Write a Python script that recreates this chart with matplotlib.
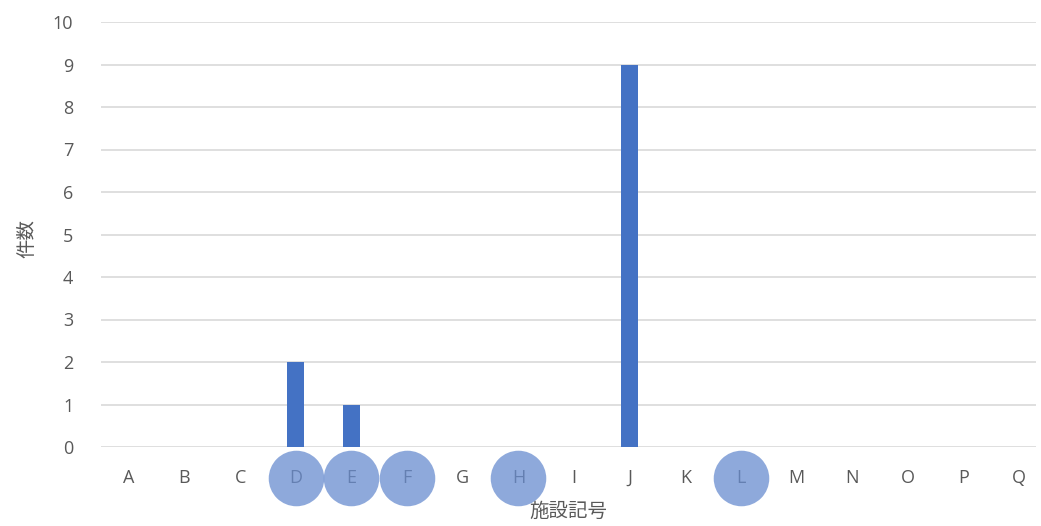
import matplotlib
matplotlib.use("Agg")
import matplotlib.pyplot as plt
import matplotlib.transforms as mtransforms

categories = list("ABCDEFGHIJKLMNOPQ")
counts = [0, 0, 0, 2, 1, 0, 0, 0, 0, 9, 0, 0, 0, 0, 0, 0, 0]
highlighted = ["D", "E", "F", "H", "L"]
yticks = list(range(0, 11))

plt.rcParams['font.family'] = ['Open Sans', 'Noto Sans CJK JP', 'DejaVu Sans']

fig = plt.figure(figsize=(10.41, 5.26), dpi=100)
ax = fig.add_axes([101/1041, 1 - 447/526, (1036 - 101)/1041, (447 - 22)/526])

x = list(range(len(categories)))
ax.bar(x, counts, width=0.3, color="#4472C4", zorder=3)

ax.set_ylim(0, 10)
ax.set_xlim(-0.5, 16.3)
ax.set_yticks(yticks)
ax.set_yticklabels([str(v) for v in yticks])
ax.set_xticks(x)
ax.set_xticklabels(categories)
ax.grid(axis="y", color="#d9d9d9", linewidth=1.2, zorder=0)
ax.set_axisbelow(True)
for s in ax.spines.values():
    s.set_visible(False)
ax.tick_params(axis="both", length=0, colors="#595959", labelsize=13)
ax.tick_params(axis="y", pad=20)
ax.tick_params(axis="x", pad=16)

# highlight circles around selected labels
trans = mtransforms.blended_transform_factory(ax.transData, ax.transAxes)
hx = [categories.index(c) for c in highlighted]
ax.scatter(hx, [-0.073] * len(hx), s=1600, color=(105/255, 141/255, 208/255),
           alpha=0.75, transform=trans, clip_on=False, zorder=5, linewidths=0)

ax.set_xlabel("施設記号", family=['Noto Sans CJK JP'], fontsize=14, color="#595959")
ax.xaxis.set_label_coords(0.5, -0.128)
ax.set_ylabel("件数", family=['Noto Sans CJK JP'], fontsize=14, color="#595959")
ax.yaxis.set_label_coords(-0.068, 0.49)

fig.savefig("out.png", dpi=100)
